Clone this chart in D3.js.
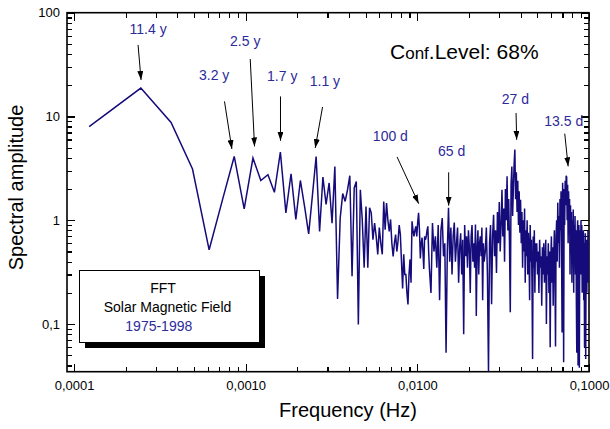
<!DOCTYPE html>
<meta charset="utf-8">
<style>

body {
  margin: 0;
  background: #fff;
}

.chart text {
  font-family: "Liberation Sans", Arial, sans-serif;
}

.axis text {
  font-size: 13px;
  fill: #000;
}

.axis line {
  stroke: #000;
  stroke-width: 1.2px;
  shape-rendering: crispEdges;
}

.axis path {
  display: none;
}

.spectrum {
  fill: none;
  stroke: #150b7a;
  stroke-width: 1.5px;
  stroke-linejoin: miter;
}

.note {
  fill: #2d2a9c;
  font-size: 14px;
  text-anchor: middle;
}

</style>
<svg class="chart"></svg>
<script src="https://d3js.org/d3.v7.min.js"></script>
<script>

// FFT bin width (cycles per day for a ~22 year record)
var df = 1.225e-4;

// amplitudes, bins 1..96 (every bin)
var ampLow = [8.0, 18.8, 8.75, 3.12, 0.52, 1.61, 4.12, 1.29, 3.98, 2.42,
  2.75, 1.86, 4.55, 1.18, 2.81, 1.02, 2.42, 1.35, 0.74, 1.77,
  4.12, 0.78, 2.61, 1.42, 2.29, 0.94, 3.3, 0.175, 1.05, 1.81,
  1.52, 1.97, 2.69, 0.29, 2.05, 2.37, 0.099, 1.97, 1.0, 0.35,
  1.36, 0.35, 1.32, 1.18, 0.65, 0.94, 0.7, 0.47, 0.85, 0.6,
  0.47, 1.52, 0.81, 1.47, 1.0, 0.78, 1.02, 0.6, 0.45, 0.6,
  0.73, 0.5, 0.63, 0.9, 0.73, 0.4, 0.22, 0.47, 0.30, 0.3,
  0.2, 0.155, 0.3, 0.42, 0.25, 0.98, 0.8, 0.70, 0.8, 0.875,
  0.70, 0.95, 1.18, 0.8, 0.43, 0.6, 0.68, 0.5, 0.34, 0.7,
  0.65, 0.70, 0.8, 0.875, 0.5, 0.34];

// bins 98..200, every 2nd bin
var ampMid = [0.2, 0.94, 0.5, 0.7, 0.35, 0.9, 0.17, 0.8, 1.05, 0.45,
  0.6, 0.053, 0.5, 1.32, 0.4, 0.85, 0.3, 0.7, 0.95, 0.4,
  0.6, 0.85, 0.25, 0.55, 0.75, 0.3, 0.65, 0.08, 0.9, 0.45,
  0.7, 0.35, 0.8, 0.55, 0.2, 0.7, 0.9, 0.4, 0.6, 0.35,
  0.91, 0.12, 0.55, 0.8, 0.3, 0.6, 0.7, 0.45, 0.85, 0.17,
  0.6, 0.4];

// bins 203..401, every 3rd bin
var ampHigh = [0.5, 0.85, 0.3, 0.035, 0.6, 0.9, 0.155, 0.7, 1.13, 0.45,
  0.8, 0.31, 1.2, 0.6, 1.5, 0.5, 0.9, 1.97, 0.7, 1.3,
  0.4, 2.0, 1.0, 2.65, 0.8, 1.6, 0.6, 0.13, 2.2, 3.3,
  1.1, 2.0, 3.5, 4.8, 1.6, 2.9, 1.2, 2.4, 0.9, 1.9,
  0.76, 1.58, 0.6, 1.2, 0.35, 1.0, 0.5, 1.3, 0.25, 0.8,
  0.45, 1.0, 0.3, 0.76, 0.5, 0.17, 0.9, 0.4, 0.65, 0.25,
  0.046, 0.7, 0.35, 0.8, 0.2, 0.6, 0.4];

// bins 405..817, every 4th bin
var ampTop = [0.6, 0.3, 0.5, 0.2, 0.65, 0.35, 0.45, 0.15, 0.55, 0.3,
  0.6, 0.25, 0.4, 0.65, 0.1, 0.45, 0.3, 0.6, 0.2, 0.5,
  0.06, 0.4, 0.7, 0.25, 0.55, 0.15, 0.45, 0.8, 0.3, 0.061,
  0.7, 1.0, 0.4, 1.48, 0.6, 1.1, 0.35, 1.6, 0.8, 1.9,
  0.5, 0.083, 2.3, 1.2, 0.043, 2.0, 0.9, 2.4, 1.4, 2.69,
  2.6, 1.0, 2.2, 0.6, 1.9, 0.8, 1.6, 0.3, 1.4, 0.7,
  1.2, 0.25, 1.0, 0.5, 1.27, 0.2, 0.9, 0.4, 1.1, 0.3,
  0.8, 0.17, 0.053, 0.7, 1.0, 0.04, 0.6, 0.9, 0.038, 0.5,
  0.8, 0.3, 1.0, 0.4, 0.9, 0.2, 0.7, 0.35, 0.8, 0.17,
  0.6, 0.06, 0.5, 0.75, 0.046, 0.4, 0.65, 0.2, 0.55, 0.3,
  0.8, 0.25, 0.6, 0.4];

var xMajor = [1e-4, 1e-3, 1e-2, 1e-1];
var xTickLabels = ["0,0001", "0,0010", "0,0100", "0,1000"];
var yMajor = [0.1, 1, 10, 100];
var yTickLabels = ["0,1", "1", "10", "100"];

// peak annotations: tip of each arrow in data units
var noteLabels = ["11.4 y", "3.2 y", "2.5 y", "1.7 y", "1.1 y", "100 d", "65 d", "27 d", "13.5 d"];
var noteFreq = [2.458e-4, 8.31e-4, 1.126e-3, 1.595e-3, 2.542e-3, 1.018e-2, 1.522e-2, 3.79e-2, 7.56e-2];
var noteAmp = [22.5, 4.86, 5.15, 5.84, 4.97, 1.447, 1.385, 5.97, 3.31];
// arrow tail and label offsets from the tip, in pixels
var noteTail = [[-3, -35], [-7.4, -47.6], [-4.3, -87.4], [0, -44.3], [7.3, -41], [-21.6, -46.7], [0, -33.3], [-0.6, -26.7], [-3.4, -32.7]];
var noteText = [[7, -46], [-17.7, -69.3], [-9.3, -100.2], [1.7, -60], [9.7, -61.8], [-28.3, -63], [3, -49.5], [-1.3, -36], [-4.4, -40.2]];

var W = 610, H = 429;
var plot = {left: 67, right: 589, top: 12.7, bottom: 371.7};

var x = d3.scaleLog()
    .domain([9.1e-5, 0.1])
    .range([plot.left, plot.right]);

var y = d3.scaleLog()
    .domain([0.0348, 100])
    .range([plot.bottom, plot.top]);

var svg = d3.select(".chart")
    .attr("width", W)
    .attr("height", H);

svg.append("defs").append("clipPath")
    .attr("id", "clip")
  .append("rect")
    .attr("x", plot.left)
    .attr("y", plot.top)
    .attr("width", plot.right - plot.left)
    .attr("height", plot.bottom - plot.top);

svg.select("defs").append("marker")
    .attr("id", "head")
    .attr("markerUnits", "userSpaceOnUse")
    .attr("viewBox", "0 0 9 6")
    .attr("refX", 9)
    .attr("refY", 3)
    .attr("markerWidth", 9)
    .attr("markerHeight", 6)
    .attr("orient", "auto")
  .append("path")
    .attr("d", "M0,0L9,3L0,6Z")
    .attr("fill", "#000");

// build the spectrum points from the bin segments
var segments = [
  {start: 1, step: 1, amp: ampLow},
  {start: 98, step: 2, amp: ampMid},
  {start: 203, step: 3, amp: ampHigh},
  {start: 405, step: 4, amp: ampTop}
];

var data = [];
segments.forEach(function (s) {
  s.amp.forEach(function (a, i) {
    data.push({f: (s.start + i * s.step) * df, a: a});
  });
});

// minor tick values 2..9 per decade
function minors(lo, hi) {
  var out = [];
  for (var e = lo; e <= hi; e++) {
    for (var m = 2; m <= 9; m++) out.push(m * Math.pow(10, e));
  }
  return out;
}
var xMinor = minors(-5, -2).filter(function (v) { return v >= x.domain()[0] && v <= x.domain()[1]; });
var yMinor = minors(-2, 1).filter(function (v) { return v >= y.domain()[0] && v <= y.domain()[1]; });

function fmt(values, labels) {
  return function (d) { return labels[values.indexOf(d)]; };
}

// bottom
svg.append("g")
    .attr("class", "axis")
    .attr("transform", "translate(0," + plot.bottom + ")")
    .call(d3.axisBottom(x).tickValues(xMajor).tickSize(-8).tickSizeOuter(0).tickPadding(9)
      .tickFormat(fmt(xMajor, xTickLabels)));
svg.append("g")
    .attr("class", "axis")
    .attr("transform", "translate(0," + plot.bottom + ")")
    .call(d3.axisBottom(x).tickValues(xMinor).tickSize(-5).tickSizeOuter(0).tickFormat(""));

// top
svg.append("g")
    .attr("class", "axis")
    .attr("transform", "translate(0," + plot.top + ")")
    .call(d3.axisTop(x).tickValues(xMajor).tickSize(-8).tickSizeOuter(0).tickFormat(""));
svg.append("g")
    .attr("class", "axis")
    .attr("transform", "translate(0," + plot.top + ")")
    .call(d3.axisTop(x).tickValues(xMinor).tickSize(-5).tickSizeOuter(0).tickFormat(""));

// left
svg.append("g")
    .attr("class", "axis")
    .attr("transform", "translate(" + plot.left + ",0)")
    .call(d3.axisLeft(y).tickValues(yMajor).tickSize(-8).tickSizeOuter(0).tickPadding(7)
      .tickFormat(fmt(yMajor, yTickLabels)));
svg.append("g")
    .attr("class", "axis")
    .attr("transform", "translate(" + plot.left + ",0)")
    .call(d3.axisLeft(y).tickValues(yMinor).tickSize(-5).tickSizeOuter(0).tickFormat(""));

// right
svg.append("g")
    .attr("class", "axis")
    .attr("transform", "translate(" + plot.right + ",0)")
    .call(d3.axisRight(y).tickValues(yMajor).tickSize(-8).tickSizeOuter(0).tickFormat(""));
svg.append("g")
    .attr("class", "axis")
    .attr("transform", "translate(" + plot.right + ",0)")
    .call(d3.axisRight(y).tickValues(yMinor).tickSize(-5).tickSizeOuter(0).tickFormat(""));

// frame
svg.append("rect")
    .attr("x", plot.left)
    .attr("y", plot.top)
    .attr("width", plot.right - plot.left)
    .attr("height", plot.bottom - plot.top)
    .attr("fill", "none")
    .attr("stroke", "#000")
    .attr("stroke-width", 1.6);

// spectrum
var line = d3.line()
    .x(function (d) { return x(d.f); })
    .y(function (d) { return y(d.a); });

svg.append("path")
    .datum(data)
    .attr("class", "spectrum")
    .attr("clip-path", "url(#clip)")
    .attr("d", line);

// axis titles
svg.append("text")
    .attr("transform", "translate(22.5," + 187.5 + ") rotate(-90)")
    .style("font-size", "20px")
    .style("text-anchor", "middle")
    .text("Spectral amplitude");

svg.append("text")
    .attr("x", 348)
    .attr("y", 417)
    .style("font-size", "20px")
    .style("text-anchor", "middle")
    .text("Frequency (Hz)");

// confidence level
var conf = svg.append("text")
    .attr("x", 390)
    .attr("y", 59.3)
    .style("font-size", "21px");
conf.append("tspan").text("C");
conf.append("tspan").style("font-size", "17px").text("onf");
conf.append("tspan").text(".Level: 68%");

// legend box with shadow
var lg = svg.append("g");
lg.append("rect")
    .attr("x", 85).attr("y", 276)
    .attr("width", 180).attr("height", 72)
    .attr("fill", "#000");
lg.append("rect")
    .attr("x", 79.5).attr("y", 270.5)
    .attr("width", 180).attr("height", 72)
    .attr("fill", "#fff")
    .attr("stroke", "#000")
    .attr("stroke-width", 1);
lg.append("text")
    .attr("x", 163).attr("y", 292.7)
    .style("font-size", "14px").style("text-anchor", "middle")
    .text("FFT");
lg.append("text")
    .attr("x", 167.5).attr("y", 311.5)
    .style("font-size", "14px").style("text-anchor", "middle")
    .text("Solar Magnetic Field");
lg.append("text")
    .attr("x", 158.8).attr("y", 330.5)
    .style("font-size", "14px").style("text-anchor", "middle")
    .style("fill", "#2d2a9c")
    .text("1975-1998");

// peak annotations
var notes = svg.append("g").selectAll("g")
    .data(noteLabels)
  .enter().append("g")
    .attr("transform", function (d, i) {
      return "translate(" + x(noteFreq[i]) + "," + y(noteAmp[i]) + ")";
    });

notes.append("line")
    .attr("x1", function (d, i) { return noteTail[i][0]; })
    .attr("y1", function (d, i) { return noteTail[i][1]; })
    .attr("x2", 0)
    .attr("y2", 0)
    .attr("stroke", "#000")
    .attr("stroke-width", 1)
    .attr("marker-end", "url(#head)");

notes.append("text")
    .attr("class", "note")
    .attr("x", function (d, i) { return noteText[i][0]; })
    .attr("y", function (d, i) { return noteText[i][1]; })
    .text(function (d) { return d; });

</script>
